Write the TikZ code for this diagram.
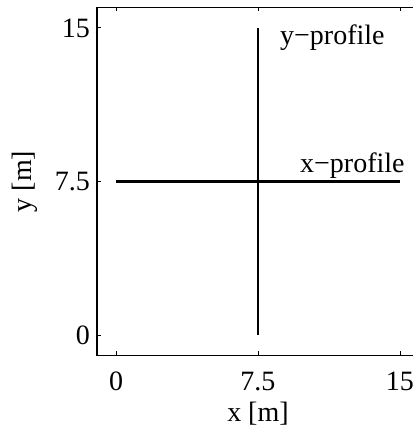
\documentclass[tikz,border=0pt]{standalone}
\usepackage{fontspec}
\setmainfont{Liberation Serif}
\usetikzlibrary{positioning}

\begin{document}
\begin{tikzpicture}[
    x=18.93pt, y=20.47pt,
    frame/.style={line width=1.4pt, draw=black},
    profile/.style={line width=2.6pt, draw=black},
    tickmark/.style={line width=0.9pt, draw=black},
    lab/.style={font=\fontsize{28}{32}\selectfont, inner sep=0pt}
]
\useasboundingbox (-116pt,-93pt) rectangle (296pt,335pt);

% Axes box (right side falls outside the page)
\draw[frame] (16,16) -- (-1,16) -- (-1,-1) -- (16,-1);

% Ticks and tick labels
\foreach \v/\t in {0/0, 7.5/7.5, 15/15} {
    \draw[tickmark] (\v,-1) -- ++(0,4pt);
    \draw[tickmark] (\v,16) -- ++(0,-4pt);
    \draw[tickmark] (-1,\v) -- ++(4pt,0);
    \node[lab, anchor=north, yshift=-16pt] (xt\t) at (\v,-1) {\t};
    \node[lab, anchor=east, xshift=-7pt] (yt\t) at (-1,\v) {\t};
}

% Profiles
\coordinate (xa) at (0,7.5);
\coordinate (xb) at (15,7.5);
\coordinate (ya) at (7.5,0);
\coordinate (yb) at (7.5,15);
\draw[profile] (xa) -- (xb);
\draw[profile] (ya) -- (yb);

% Labels
\node[lab, anchor=base west] (ylab) at (8.66,14.17) {y−profile};
\node[lab, anchor=base west] (xlab) at (9.72,7.96) {x−profile};
\node[lab, anchor=base] (xaxis) at (7.5,-4.25) {x [m]};
\node[lab, anchor=base, rotate=90] (yaxis) at (-4.44,7.5) {y [m]};

\end{tikzpicture}
\end{document}
